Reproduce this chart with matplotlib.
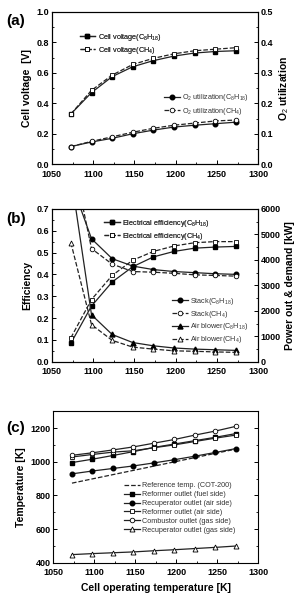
import matplotlib
matplotlib.use('Agg')
import matplotlib.pyplot as plt
from matplotlib.ticker import MultipleLocator

plt.rcParams['font.family'] = ['Liberation Sans', 'DejaVu Sans']
plt.rcParams['mathtext.fontset'] = 'custom'
plt.rcParams['mathtext.rm'] = 'Liberation Sans'

# 电池运行温度
temp = [1073, 1098, 1123, 1148, 1173, 1198, 1223, 1248, 1273]

# (a) 电池电压与氧利用率
volt_c8 = [0.33, 0.47, 0.575, 0.64, 0.68, 0.71, 0.73, 0.74, 0.745]
volt_ch4 = [0.33, 0.485, 0.585, 0.655, 0.695, 0.725, 0.745, 0.755, 0.765]
o2_c8 = [0.058, 0.073, 0.085, 0.100, 0.112, 0.122, 0.128, 0.133, 0.138]
o2_ch4 = [0.058, 0.075, 0.090, 0.105, 0.118, 0.128, 0.135, 0.142, 0.145]

# (b) 效率与功率
eff_c8 = [0.085, 0.255, 0.365, 0.435, 0.48, 0.505, 0.52, 0.525, 0.528]
eff_ch4 = [0.11, 0.285, 0.395, 0.465, 0.505, 0.53, 0.545, 0.55, 0.55]
stack_c8 = [7080, 4826, 4046, 3754, 3617, 3540, 3497, 3454, 3429]
stack_ch4 = [8340, 4440, 3831, 3540, 3514, 3471, 3411, 3386, 3360]
blower_c8 = [7310, 1843, 1071, 754, 626, 540, 497, 471, 446]
blower_ch4 = [4670, 1457, 840, 574, 497, 429, 411, 386, 369]

# (c) 各部件温度
t_ref = [873, 1075]
t_ref_x = [1073, 1273]
t_reformer_fuel = [995, 1015, 1037, 1060, 1085, 1105, 1125, 1145, 1167]
t_recup_air = [928, 945, 960, 975, 993, 1012, 1033, 1055, 1078]
t_reformer_air = [1028, 1043, 1057, 1065, 1083, 1100, 1120, 1140, 1158]
t_combustor = [1038, 1053, 1070, 1088, 1110, 1132, 1158, 1182, 1210]
t_recup_gas = [449, 455, 460, 465, 472, 478, 485, 492, 500]

c8 = '(C$_8$H$_{18}$)'
ch4 = '(CH$_4$)'

fig = plt.figure(figsize=(2.95, 5.95), dpi=100)
tick_fs = 6.5
lab_fs = 7.5
leg_fs = 5.2
ms = 3.3
lc = '#222222'
leg_kw = dict(frameon=False, fontsize=leg_fs, handlelength=2.2, handletextpad=0.3,
              borderaxespad=0, labelcolor='#333333')


def style(ax):
    ax.tick_params(direction='in', labelsize=tick_fs, length=3, width=0.7, pad=2)
    ax.tick_params(axis='x', pad=4)
    ax.tick_params(which='minor', direction='in', length=1.5, width=0.6)
    for lbl in ax.get_xticklabels() + ax.get_yticklabels():
        lbl.set_fontweight('bold')
    for s in ax.spines.values():
        s.set_linewidth(0.8)


def xaxis(ax):
    ax.set_xlim(1050, 1300)
    ax.xaxis.set_major_locator(MultipleLocator(50))
    ax.xaxis.set_minor_locator(MultipleLocator(25))


# ---------- (a) ----------
ax1 = fig.add_axes([0.176, 0.724, 0.699, 0.256])
ax1b = ax1.twinx()
l1, = ax1.plot(temp, volt_c8, '-', color=lc, lw=0.9, marker='s', ms=ms, mfc='k', mec='k')
l2, = ax1.plot(temp, volt_ch4, '--', color=lc, lw=0.9, marker='s', ms=ms, mfc='white', mec='k', mew=0.6)
l3, = ax1b.plot(temp, o2_c8, '-', color=lc, lw=0.9, marker='o', ms=ms, mfc='k', mec='k')
l4, = ax1b.plot(temp, o2_ch4, '--', color=lc, lw=0.9, marker='o', ms=ms, mfc='white', mec='k', mew=0.6)
xaxis(ax1)
ax1.set_ylim(0, 1.0)
ax1.yaxis.set_major_locator(MultipleLocator(0.2))
ax1.yaxis.set_minor_locator(MultipleLocator(0.1))
ax1b.set_ylim(0, 0.5)
ax1b.yaxis.set_major_locator(MultipleLocator(0.1))
ax1b.yaxis.set_minor_locator(MultipleLocator(0.05))
ax1.set_ylabel('Cell voltage  [V]', fontsize=lab_fs, fontweight='bold', labelpad=3)
ax1b.set_ylabel('O$_2$ utilization', fontsize=lab_fs, fontweight='bold', labelpad=3)
style(ax1)
style(ax1b)
leg = ax1.legend([l1, l2], ['Cell voltage' + c8, 'Cell voltage' + ch4], loc='upper left',
                 bbox_to_anchor=(0.12, 0.89), labelspacing=0.3, **leg_kw)
ax1.add_artist(leg)
ax1b.legend([l3, l4], ['O$_2$ utilization' + c8, 'O$_2$ utilization' + ch4], loc='upper left',
            bbox_to_anchor=(0.53, 0.49), labelspacing=0.3, **leg_kw)
fig.text(0.02, 0.965, '(a)', fontsize=11, fontweight='bold', va='center')

# ---------- (b) ----------
ax2 = fig.add_axes([0.176, 0.392, 0.699, 0.257])
ax2b = ax2.twinx()
e1, = ax2.plot(temp, eff_c8, '-', color=lc, lw=0.9, marker='s', ms=ms, mfc='k', mec='k')
e2, = ax2.plot(temp, eff_ch4, '--', color=lc, lw=0.9, marker='s', ms=ms, mfc='white', mec='k', mew=0.6)
s1, = ax2b.plot(temp, stack_c8, '-', color=lc, lw=0.9, marker='o', ms=ms, mfc='k', mec='k')
s2, = ax2b.plot(temp, stack_ch4, '--', color=lc, lw=0.9, marker='o', ms=ms, mfc='white', mec='k', mew=0.6)
b1, = ax2b.plot(temp, blower_c8, '-', color=lc, lw=0.9, marker='^', ms=ms + 0.3, mfc='k', mec='k')
b2, = ax2b.plot(temp, blower_ch4, '--', color=lc, lw=0.9, marker='^', ms=ms + 0.3, mfc='white', mec='k', mew=0.6)
xaxis(ax2)
ax2.set_ylim(0, 0.7)
ax2.yaxis.set_major_locator(MultipleLocator(0.1))
ax2.yaxis.set_minor_locator(MultipleLocator(0.05))
ax2b.set_ylim(0, 6000)
ax2b.yaxis.set_major_locator(MultipleLocator(1000))
ax2b.yaxis.set_minor_locator(MultipleLocator(500))
ax2.set_ylabel('Efficiency', fontsize=lab_fs, fontweight='bold', labelpad=3)
ax2b.set_ylabel('Power out & demand [kW]', fontsize=lab_fs, fontweight='bold', labelpad=3)
style(ax2)
style(ax2b)
leg = ax2.legend([e1, e2], ['Electrical efficiency' + c8, 'Electrical efficiency' + ch4],
                 loc='upper left', bbox_to_anchor=(0.24, 0.96), labelspacing=0.3, **leg_kw)
ax2.add_artist(leg)
ax2b.legend([s1, s2, b1, b2], ['Stack' + c8, 'Stack' + ch4, 'Air blower' + c8, 'Air blower' + ch4],
            loc='upper left', bbox_to_anchor=(0.57, 0.45), labelspacing=0.25, **leg_kw)
fig.text(0.02, 0.632, '(b)', fontsize=11, fontweight='bold', va='center')

# ---------- (c) ----------
ax3 = fig.add_axes([0.18, 0.054, 0.695, 0.255])
r0, = ax3.plot(t_ref_x, t_ref, '--', color=lc, lw=0.9)
r1, = ax3.plot(temp, t_reformer_fuel, '-', color=lc, lw=0.9, marker='s', ms=ms, mfc='k', mec='k')
r2, = ax3.plot(temp, t_recup_air, '-', color=lc, lw=0.9, marker='o', ms=ms, mfc='k', mec='k')
r3, = ax3.plot(temp, t_reformer_air, '-', color=lc, lw=0.9, marker='s', ms=ms, mfc='white', mec='k', mew=0.6)
r4, = ax3.plot(temp, t_combustor, '-', color=lc, lw=0.9, marker='o', ms=ms, mfc='white', mec='k', mew=0.6)
r5, = ax3.plot(temp, t_recup_gas, '-', color=lc, lw=0.9, marker='^', ms=ms + 0.3, mfc='white', mec='k', mew=0.6)
xaxis(ax3)
ax3.set_ylim(400, 1300)
ax3.yaxis.set_major_locator(MultipleLocator(200))
ax3.yaxis.set_minor_locator(MultipleLocator(100))
ax3.tick_params(right=True, which='both')
ax3.set_ylabel('Temperature [K]', fontsize=lab_fs, fontweight='bold', labelpad=3)
ax3.set_xlabel('Cell operating temperature [K]', fontsize=lab_fs, fontweight='bold', labelpad=4)
style(ax3)
ax3.legend([r0, r1, r2, r3, r4, r5],
           ['Reference temp. (COT-200)', 'Reformer outlet (fuel side)', 'Recuperator outlet (air side)',
            'Reformer outlet (air side)', 'Combustor outlet (gas side)', 'Recuperator outlet (gas side)'],
           loc='upper left', bbox_to_anchor=(0.33, 0.55), labelspacing=0.25, **leg_kw)
fig.text(0.02, 0.28, '(c)', fontsize=11, fontweight='bold', va='center')

plt.savefig('out.png', dpi=100)
